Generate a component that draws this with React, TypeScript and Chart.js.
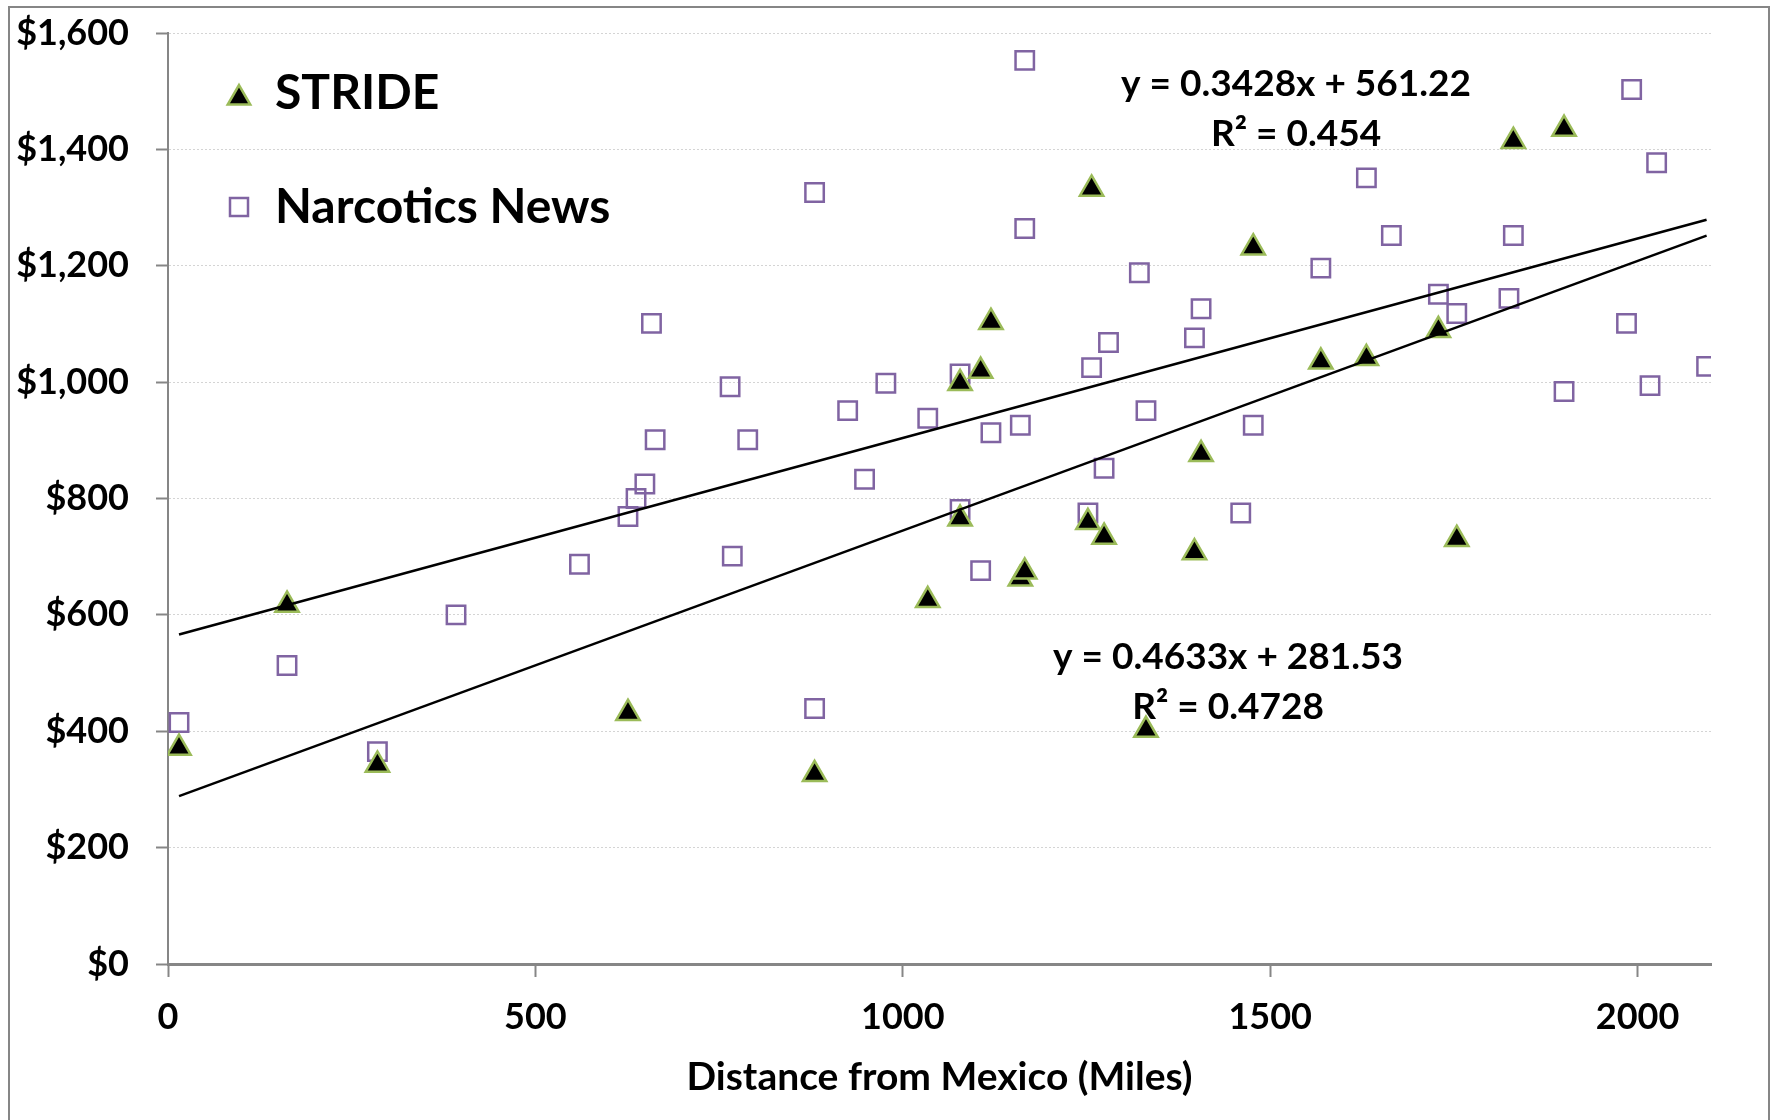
import React, { useEffect, useRef } from "react";
import { Chart, registerables } from "chart.js";

Chart.register(...registerables);

// ---- Data ----
const STRIDE_X = [15, 162, 285, 626, 880, 1034, 1078, 1078, 1106, 1120, 1160, 1166, 1252, 1257, 1274, 1331, 1397, 1406, 1477, 1569, 1631, 1729, 1754, 1831, 1900];
const STRIDE_Y = [371, 617, 342, 431, 326, 625, 998, 765, 1019, 1103, 662, 674, 759, 1332, 734, 402, 707, 876, 1231, 1035, 1041, 1089, 730, 1414, 1435];

const NARC_X = [15, 162, 285, 392, 560, 626, 637, 649, 658, 663, 765, 768, 789, 880, 880, 925, 948, 977, 1034, 1078, 1078, 1106, 1120, 1160, 1166, 1166, 1252, 1257, 1274, 1280, 1322, 1331, 1397, 1406, 1460, 1477, 1569, 1631, 1665, 1729, 1754, 1825, 1831, 1900, 1985, 1992, 2017, 2026, 2094];
const NARC_Y = [415, 513, 365, 600, 687, 769, 800, 825, 1101, 901, 992, 701, 901, 1326, 439, 951, 833, 998, 938, 1014, 781, 676, 913, 926, 1553, 1264, 775, 1025, 852, 1068, 1188, 951, 1076, 1126, 775, 926, 1196, 1351, 1252, 1151, 1118, 1144, 1252, 984, 1101, 1503, 994, 1377, 1027];

const SERIES_NAMES = ["STRIDE", "Narcotics News"];
const TREND_SLOPES = [0.4633, 0.3428];
const TREND_INTERCEPTS = [281.53, 561.22];
const TREND_R2 = ["0.4728", "0.454"];

const X_TICKS = [0, 500, 1000, 1500, 2000];
const Y_TICKS = [0, 200, 400, 600, 800, 1000, 1200, 1400, 1600];
const X_TITLE = "Distance from Mexico (Miles)";

// ---- Styles ----
const W = 1773;
const H = 1120;
const FONT = "Lato";
const GREEN = "#9BBB59";
const PURPLE = "#8064A2";
const AXIS_GRAY = "#868686";

function drawTriangle(ctx: CanvasRenderingContext2D, x: number, y: number, r: number) {
  ctx.beginPath();
  ctx.moveTo(x, y - r);
  ctx.lineTo(x + r * Math.sin(Math.PI / 3), y + r / 2);
  ctx.lineTo(x - r * Math.sin(Math.PI / 3), y + r / 2);
  ctx.closePath();
  ctx.fillStyle = "#000";
  ctx.fill();
  ctx.lineWidth = 2.5;
  ctx.strokeStyle = GREEN;
  ctx.stroke();
}

const decorPlugin = {
  id: "decor",
  beforeDraw(chart: any) {
    const ctx = chart.ctx as CanvasRenderingContext2D;
    ctx.save();
    ctx.fillStyle = "#fff";
    ctx.fillRect(0, 0, W, H);
    ctx.strokeStyle = AXIS_GRAY;
    ctx.lineWidth = 2;
    ctx.strokeRect(9, 7, 1760, 1300);
    ctx.restore();
  },
  afterDraw(chart: any) {
    const ctx = chart.ctx as CanvasRenderingContext2D;
    ctx.save();
    // Legend
    ctx.font = `bold 48px ${FONT}`;
    ctx.fillStyle = "#000";
    ctx.textAlign = "left";
    ctx.textBaseline = "middle";
    drawTriangle(ctx, 239, 98, 13);
    ctx.fillStyle = "#000";
    ctx.fillText(SERIES_NAMES[0], 275, 94);
    ctx.lineWidth = 2.5;
    ctx.strokeStyle = PURPLE;
    ctx.strokeRect(239 - 9, 207 - 9, 18, 18);
    ctx.fillText(SERIES_NAMES[1], 275, 208);

    // Trendline equations
    ctx.font = `bold 37px ${FONT}`;
    ctx.textAlign = "center";
    const eq = (i: number) => `y = ${TREND_SLOPES[i].toFixed(4)}x + ${TREND_INTERCEPTS[i].toFixed(2)}`;
    ctx.fillText(eq(1), 1296, 84);
    ctx.fillText(`R² = ${TREND_R2[1]}`, 1296, 134);
    ctx.fillText(eq(0), 1228, 657);
    ctx.fillText(`R² = ${TREND_R2[0]}`, 1228, 707);
    ctx.restore();
  },
};

export default function App() {
  const ref = useRef<HTMLCanvasElement>(null);

  useEffect(() => {
    const canvas = ref.current;
    if (!canvas) return;
    const allX = [...STRIDE_X, ...NARC_X];
    const xLo = Math.min(...allX);
    const xHi = Math.max(...allX);
    const trend = (i: number) => [xLo, xHi].map((x) => ({ x, y: TREND_SLOPES[i] * x + TREND_INTERCEPTS[i] }));

    const chart = new Chart(canvas, {
      type: "scatter",
      data: {
        datasets: [
          {
            type: "line",
            label: "trend-stride",
            data: trend(0),
            borderColor: "#000",
            borderWidth: 2.5,
            pointRadius: 0,
            fill: false,
            order: 0,
          } as any,
          {
            type: "line",
            label: "trend-narc",
            data: trend(1),
            borderColor: "#000",
            borderWidth: 2.5,
            pointRadius: 0,
            fill: false,
            order: 0,
          } as any,
          {
            label: SERIES_NAMES[0],
            data: STRIDE_X.map((x, i) => ({ x, y: STRIDE_Y[i] })),
            pointStyle: "triangle",
            pointRadius: 13.5,
            backgroundColor: "#000",
            borderColor: GREEN,
            borderWidth: 2.5,
            order: 1,
          },
          {
            label: SERIES_NAMES[1],
            data: NARC_X.map((x, i) => ({ x, y: NARC_Y[i] })),
            pointStyle: "rect",
            pointRadius: 13,
            backgroundColor: "rgba(255,255,255,0)",
            borderColor: PURPLE,
            borderWidth: 2.5,
            order: 2,
          },
        ],
      },
      options: {
        responsive: false,
        animation: false,
        devicePixelRatio: 1,
        layout: { padding: { top: 33, right: 62, left: 0, bottom: 0 } },
        plugins: {
          legend: { display: false },
          tooltip: { enabled: false },
        },
        scales: {
          x: {
            type: "linear",
            min: 0,
            max: 2100,
            afterBuildTicks: (s: any) => {
              s.ticks = X_TICKS.map((v) => ({ value: v }));
            },
            afterFit: (s: any) => {
              s.height = 156;
            },
            grid: {
              drawOnChartArea: false,
              tickLength: 13,
              tickColor: AXIS_GRAY,
              tickWidth: 2,
            },
            border: { color: AXIS_GRAY, width: 3 },
            ticks: {
              font: { family: FONT, weight: "bold", size: 36 },
              color: "#000",
              padding: 19,
              maxRotation: 0,
              callback: (v: any) => String(v),
            },
            title: {
              display: true,
              text: X_TITLE,
              font: { family: FONT, weight: "bold", size: 39 },
              color: "#000",
              padding: { top: 0, bottom: 19 },
            },
          },
          y: {
            type: "linear",
            min: 0,
            max: 1600,
            afterBuildTicks: (s: any) => {
              s.ticks = Y_TICKS.map((v) => ({ value: v }));
            },
            afterFit: (s: any) => {
              s.width = 168;
              s.paddingTop = 0;
              s.paddingBottom = 0;
            },
            grid: {
              color: "#D4D4D4",
              lineWidth: 1,
              tickLength: 12,
              tickColor: AXIS_GRAY,
              tickWidth: 2,
            },
            border: { color: AXIS_GRAY, width: 2, dash: [2, 2] },
            ticks: {
              font: { family: FONT, weight: "bold", size: 36 },
              color: "#000",
              padding: 27,
              callback: (v: any) => "$" + Number(v).toLocaleString("en-US"),
            },
          },
        },
      } as any,
      plugins: [decorPlugin],
    });

    return () => chart.destroy();
  }, []);

  return (
    <div style={{ position: "fixed", left: 0, top: 0, width: W, height: H, background: "#fff" }}>
      <canvas ref={ref} width={W} height={H} style={{ display: "block" }} />
    </div>
  );
}
